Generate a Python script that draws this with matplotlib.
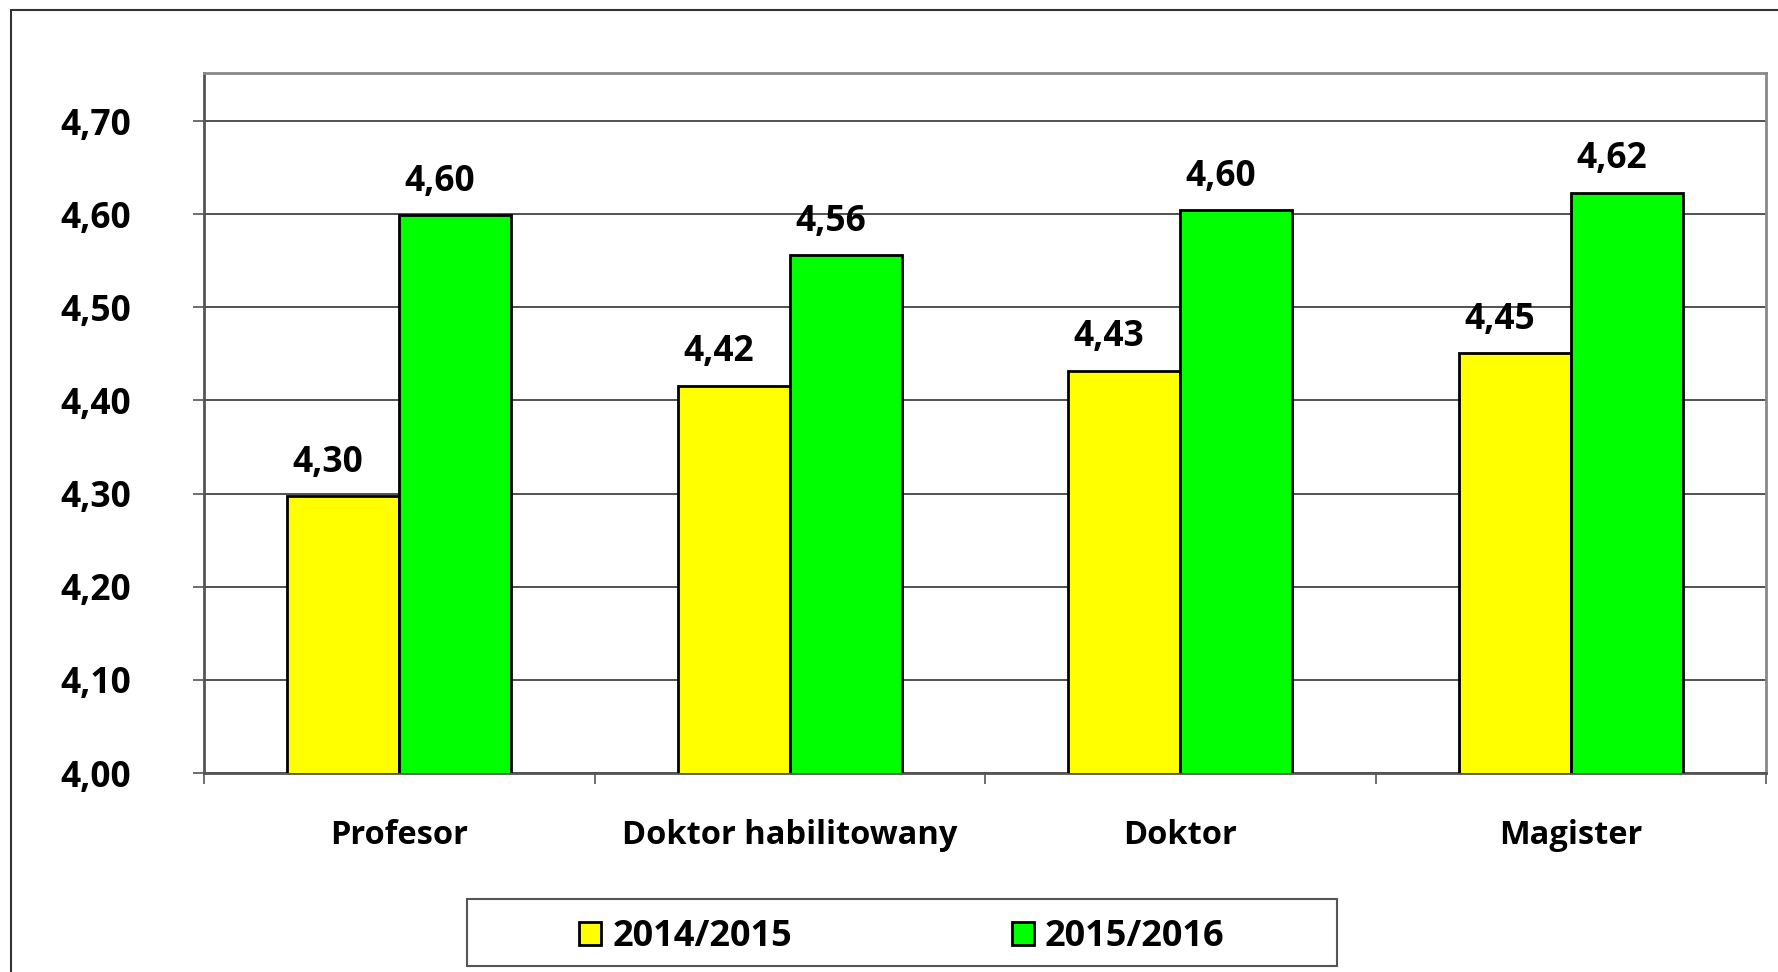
import matplotlib
matplotlib.use("Agg")
import matplotlib.pyplot as plt
import numpy as np
from matplotlib.patches import Rectangle, Patch

plt.rcParams["font.family"] = ["Open Sans", "DejaVu Sans"]
plt.rcParams["font.weight"] = "bold"

categories = ["Profesor", "Doktor habilitowany", "Doktor", "Magister"]
series_names = ["2014/2015", "2015/2016"]
values_2014 = [4.297, 4.416, 4.432, 4.451]
values_2015 = [4.599, 4.556, 4.604, 4.623]
colors = ["#FFFF00", "#00FF00"]
y_ticks = [4.0, 4.1, 4.2, 4.3, 4.4, 4.5, 4.6, 4.7]

W, H = 1778, 972
FS_NUM = 25.5
FS_CAT = 23.5
FS_LEG = 26


def fmt(v):
    return f"{v:.2f}".replace(".", ",")


def main():
    fig = plt.figure(figsize=(W / 100, H / 100), dpi=100)

    # outer chart border (only left and top are visible in the picture)
    fig.patches.append(Rectangle((11 / W, -0.05), 1.2, (H - 10) / H + 0.05,
                                 transform=fig.transFigure, fill=False,
                                 edgecolor="#333333", linewidth=1.5))

    ax = fig.add_axes([204 / W, (H - 773) / H, (1766 - 204) / W, (773 - 73) / H])
    x = np.arange(len(categories))
    bw = 0.287

    for off, vals, col in ((-bw / 2, values_2014, colors[0]), (bw / 2, values_2015, colors[1])):
        bars = ax.bar(x + off, vals, bw, color=col, edgecolor="black", linewidth=2, zorder=3)
        for b, v in zip(bars, vals):
            ax.annotate(fmt(v), (b.get_x() + b.get_width() / 2, v),
                        xytext=(-11, 11), textcoords="offset points",
                        ha="center", va="bottom", fontsize=FS_NUM, fontweight="bold")

    ax.set_xlim(-0.5, len(categories) - 0.5)
    ax.set_ylim(4.0, 4.7516)
    ax.set_yticks(y_ticks)
    ax.set_yticklabels([fmt(v) for v in y_ticks], fontsize=FS_NUM, fontweight="bold")
    ax.tick_params(axis="y", length=8, width=1.2, color="#555555", pad=44.5)
    ax.yaxis.grid(True, color="#333333", linewidth=1.2, zorder=0)

    ax.set_xticks(np.arange(len(categories) + 1) - 0.5)
    ax.set_xticklabels([])
    ax.tick_params(axis="x", which="major", length=8, width=1.2, color="#555555")
    ax.set_xticks(x, minor=True)
    ax.set_xticklabels(categories, minor=True, fontsize=FS_CAT, fontweight="bold")
    ax.tick_params(axis="x", which="minor", length=0, pad=33)

    for s in ax.spines.values():
        s.set_color("#888888")
        s.set_linewidth(2)
    ax.spines["bottom"].set_color("#555555")
    ax.spines["left"].set_color("#555555")

    # legend box
    fig.patches.append(Rectangle((467 / W, (H - 966) / H), 870 / W, 67 / H,
                                 transform=fig.transFigure, fill=False,
                                 edgecolor="#555555", linewidth=1.5))
    handles = [Patch(facecolor=c, edgecolor="black", linewidth=2) for c in colors]
    fig.legend(handles, series_names, loc="center", ncol=2,
               bbox_to_anchor=(902 / W, (H - 937) / H), frameon=False,
               prop={"size": FS_LEG, "weight": "bold"}, handlelength=0.61,
               handleheight=0.61, handletextpad=0.3, columnspacing=6.1)

    fig.savefig("out.png", dpi=100)


if __name__ == "__main__":
    main()
